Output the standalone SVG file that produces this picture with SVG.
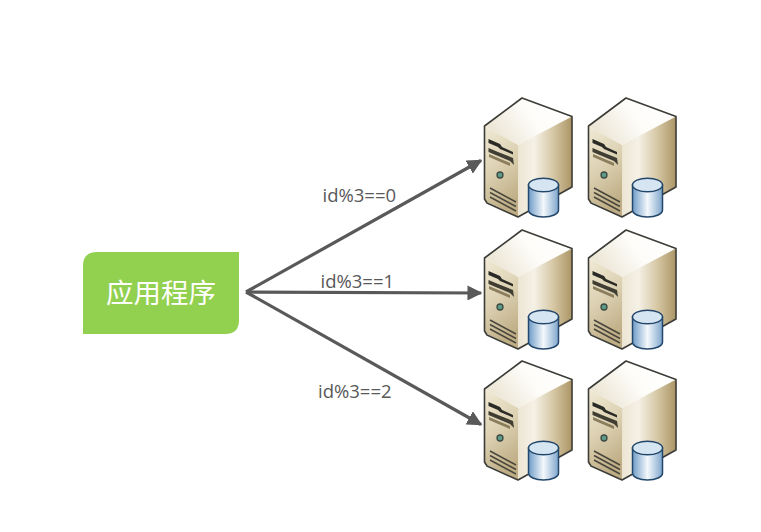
<svg xmlns="http://www.w3.org/2000/svg" width="761" height="532" viewBox="0 0 761 532">
<style>
.lbl{font-family:"Open Sans","Noto Sans","Liberation Sans",sans-serif;font-size:18.500px;fill:#595959}
.title{font-family:"Noto Sans CJK SC",sans-serif;font-size:27.500px;fill:#fff;text-anchor:middle}
.conn{fill:none;stroke:#595959;stroke-width:3.200}
</style>
<defs>
<filter id="soft" x="-5%" y="-5%" width="110%" height="110%"><feGaussianBlur stdDeviation="0.350"/></filter>
<linearGradient id="front" x1="0" y1="0" x2="0.300" y2="1"><stop offset="0" stop-color="#f1ead6"/><stop offset="0.5" stop-color="#ddd2b4"/><stop offset="1" stop-color="#bfae85"/></linearGradient>
<linearGradient id="side" x1="0" y1="0" x2="1" y2="0"><stop offset="0" stop-color="#ece5d3"/><stop offset="0.3" stop-color="#f5f1e6"/><stop offset="0.65" stop-color="#d6c8a6"/><stop offset="1" stop-color="#ab9565"/></linearGradient>
<linearGradient id="top" x1="0" y1="0.700" x2="1" y2="0.300"><stop offset="0" stop-color="#e9e2cf"/><stop offset="0.55" stop-color="#fdfcf9"/><stop offset="1" stop-color="#ffffff"/></linearGradient>
<linearGradient id="cyl" x1="0" y1="0" x2="1" y2="0"><stop offset="0" stop-color="#6f9cc8"/><stop offset="0.5" stop-color="#f4f8fb"/><stop offset="1" stop-color="#7ea6cc"/></linearGradient>
<marker id="arrow" viewBox="0 0 10 10" refX="9" refY="5" markerWidth="4.700" markerHeight="4.700" orient="auto"><path d="M0 0L10 5L0 10Z" fill="#595959"/></marker>
<g id="server" filter="url(#soft)">
<path fill="url(#top)" d="M0.500 28L38 0L88 18.500L34 47Z"/>
<path fill="url(#side)" d="M34 47L88 18.500V89L34 119Z"/>
<path fill="url(#front)" d="M0.500 28L34 47V119L1 103Z"/>
<path fill="none" stroke="#3c3c38" stroke-width="1.600" stroke-linejoin="round" d="M0.500 28L38 0L88 18.500V89L34 119L3 105L0.500 101Z"/>
<path fill="#2b2a25" d="M4.500 41L16 46L18 49L29 54L29 56.500L16 51L14 49L4.500 45Z"/>
<path fill="#3f3c31" d="M4.500 50L14 54L29 60L30 67L26 63L4.500 54Z"/>
<path fill="#8a7d5c" d="M5 56L26 65V68L5 59Z"/>
<circle cx="16" cy="77" r="3" fill="#5c9a8a" stroke="#3d4a42" stroke-width="1.300"/>
<path fill="none" stroke="#4a473c" stroke-width="1.500" d="M6 90L32 104M6 94.500L32 108.500M6 99L32 113"/>
<path stroke="#24476b" stroke-width="1.500" fill="url(#cyl)" d="M44.500 87V112C44.500 116 51 119 59.500 119S74.500 116 74.500 112V87Z"/>
<ellipse cx="59.500" cy="87" rx="15" ry="6.800" fill="#d6e5f2" stroke="#24476b" stroke-width="1.500"/>
</g>
</defs>
<g id="connectors">
<path class="conn" marker-end="url(#arrow)" d="M246 292L481 160.500"/>
<path class="conn" marker-end="url(#arrow)" d="M246 292L481 293"/>
<path class="conn" marker-end="url(#arrow)" d="M246 292L481 424.500"/>
</g>
<g id="app">
<path fill="#92d050" d="M83 334V266Q83 252 97 252H239V320Q239 334 225 334Z"/>
<text class="title" x="161" y="303">应用程序</text>
</g>
<g id="labels">
<text class="lbl" x="322.500" y="202">id%3==0</text>
<text class="lbl" x="320.500" y="288">id%3==1</text>
<text class="lbl" x="318" y="398">id%3==2</text>
</g>
<g id="server-1"><use href="#server" x="484" y="98"/></g>
<g id="server-2"><use href="#server" x="588" y="98"/></g>
<g id="server-3"><use href="#server" x="484" y="230"/></g>
<g id="server-4"><use href="#server" x="588" y="230"/></g>
<g id="server-5"><use href="#server" x="484" y="361"/></g>
<g id="server-6"><use href="#server" x="588" y="361"/></g>
</svg>
